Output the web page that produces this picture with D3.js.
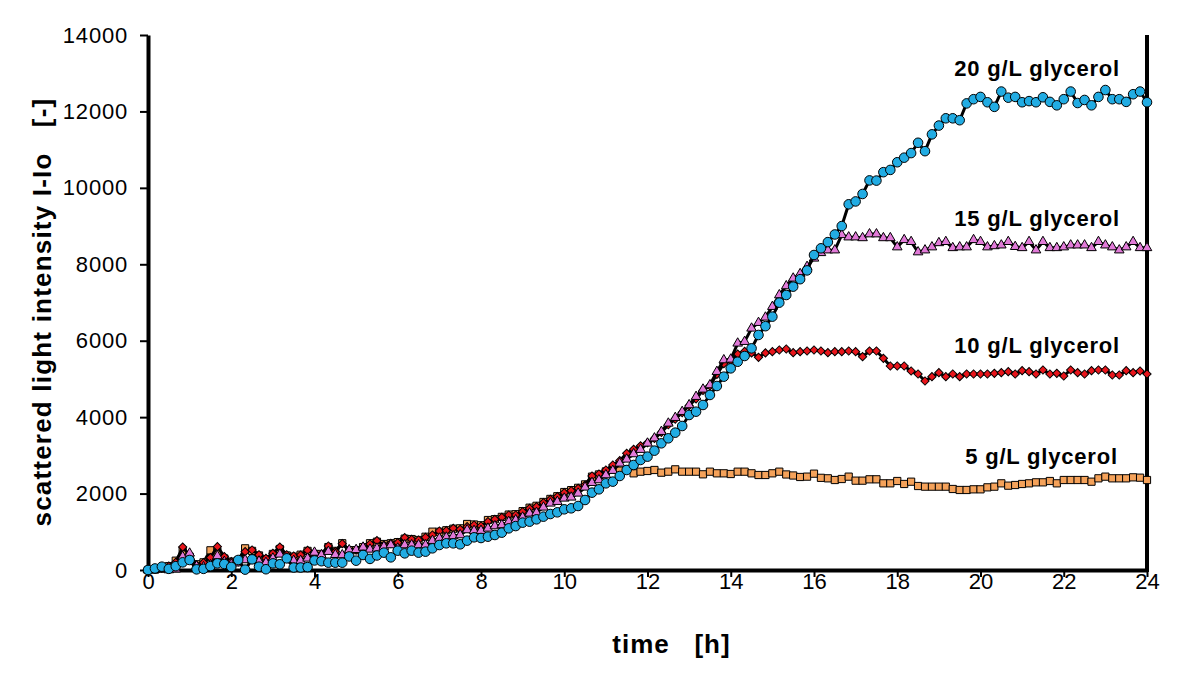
<!DOCTYPE html>
<html>
<head>
<meta charset="utf-8">
<script src="https://cdn.jsdelivr.net/npm/d3@7"></script>
<style>
	body { margin: 0; background: #fff; }
	svg { display: block; font-family: "Liberation Sans", Arial, sans-serif; }
	.tick text { font-size: 22px; fill: #000; }
	.y-ticks .tick text { letter-spacing: 0.8px; }
	.axis-title { font-size: 26px; font-weight: bold; white-space: pre; }
	.series-label { font-size: 22px; font-weight: bold; letter-spacing: 0.8px; }
</style>
</head>
<body>
<div class="graphic"></div>
<script>
// sampling every 10 min over 24 h
var times = d3.range(0, 145).map(function(i) { return i / 6 })

var xTicks = [0, 2, 4, 6, 8, 10, 12, 14, 16, 18, 20, 22, 24]
var yTicks = [0, 2000, 4000, 6000, 8000, 10000, 12000, 14000]

var labels = ['5 g/L glycerol', '10 g/L glycerol', '15 g/L glycerol', '20 g/L glycerol']

var glycerol5 = [
	0, 10, 40, 100, 244, 500, 350, 150, 200, 515,
	480, 300, 220, 250, 567, 500, 380, 280, 420, 550,
	380, 350, 400, 500, 420, 420, 600, 500, 700, 520,
	520, 600, 700, 740, 680, 700, 730, 820, 810, 785,
	870, 1003, 1000, 1040, 1080, 1090, 1204, 1190, 1170, 1308,
	1330, 1390, 1450, 1460, 1540, 1630, 1680, 1780, 1860, 1930,
	2040, 2090, 2150, 2240, 2443, 2500, 2580, 2620, 2600, 2640,
	2530, 2573, 2591, 2617, 2547, 2573, 2634, 2573, 2573, 2573,
	2504, 2573, 2530, 2530, 2512, 2573, 2573, 2530, 2486, 2486,
	2530, 2573, 2500, 2473, 2434, 2443, 2521, 2412, 2399, 2355,
	2381, 2443, 2338, 2338, 2373, 2373, 2268, 2268, 2329, 2251,
	2311, 2198, 2181, 2181, 2181, 2181, 2120, 2094, 2094, 2111,
	2111, 2163, 2181, 2268, 2207, 2224, 2251, 2268, 2294, 2294,
	2329, 2268, 2355, 2355, 2355, 2355, 2311, 2399, 2443, 2399,
	2399, 2399, 2425, 2416, 2355
]

var glycerol10 = [
	0, 20, 50, 105, 200, 600, 380, 130, 192, 323,
	610, 350, 218, 210, 480, 523, 400, 305, 436, 600,
	400, 366, 393, 515, 419, 410, 628, 480, 690, 506,
	523, 593, 680, 768, 654, 698, 715, 846, 802, 785,
	855, 916, 1021, 1029, 1090, 1064, 1134, 1178, 1151, 1265,
	1326, 1378, 1439, 1439, 1526, 1614, 1657, 1762, 1849, 1919,
	2024, 2076, 2137, 2224, 2460, 2512, 2617, 2748, 2861, 3053,
	3158, 3250, 3330, 3440, 3600, 3800, 3950, 4120, 4300, 4480,
	4700, 4820, 5120, 5400, 5480, 5650, 5720, 5680, 5565, 5680,
	5713, 5757, 5783, 5687, 5713, 5731, 5757, 5731, 5687, 5713,
	5713, 5731, 5713, 5582, 5731, 5731, 5539, 5338, 5338, 5338,
	5207, 5129, 4946, 5059, 5164, 5059, 5129, 5059, 5129, 5129,
	5129, 5129, 5146, 5164, 5190, 5129, 5216, 5190, 5129, 5234,
	5129, 5146, 5077, 5234, 5164, 5129, 5216, 5234, 5234, 5103,
	5103, 5216, 5164, 5207, 5129
]

var glycerol15 = [
	0, 10, 30, 0, 20, 350, 436, 100, 80, 131,
	366, 218, 150, 180, 262, 262, 230, 192, 305, 410,
	305, 244, 244, 305, 460, 393, 480, 400, 393, 523,
	530, 593, 540, 567, 611, 654, 567, 654, 654, 654,
	654, 768, 829, 855, 890, 916, 1047, 1029, 1029, 1090,
	1151, 1178, 1265, 1308, 1378, 1483, 1500, 1640, 1745, 1788,
	1875, 1902, 2006, 2163, 2285, 2355, 2486, 2600, 2791, 2896,
	3036, 3150, 3315, 3450, 3620, 3838, 3986, 4143, 4318, 4536,
	4728, 4841, 5190, 5495, 5513, 5932, 5975, 6324, 6472, 6612,
	6891, 7196, 7432, 7633, 7750, 7938, 8156, 8300, 8370, 8370,
	8770, 8710, 8710, 8690, 8790, 8790, 8690, 8690, 8450, 8640,
	8590, 8320, 8370, 8450, 8560, 8590, 8430, 8450, 8450, 8640,
	8590, 8450, 8480, 8500, 8590, 8460, 8430, 8590, 8370, 8590,
	8430, 8430, 8450, 8500, 8500, 8500, 8430, 8590, 8500, 8450,
	8370, 8450, 8590, 8430, 8430
]

var glycerol20 = [
	0, 40, 87, 30, 100, 200, 262, 17, 30, 100,
	174, 157, 80, 262, 10, 279, 87, 20, 174, 150,
	305, 65, 65, 75, 250, 230, 192, 192, 192, 355,
	244, 393, 290, 380, 454, 331, 506, 436, 506, 454,
	480, 567, 654, 698, 698, 672, 768, 855, 837, 872,
	916, 977, 1090, 1150, 1239, 1265, 1326, 1396, 1465, 1509,
	1588, 1614, 1675, 1832, 2024, 2111, 2268, 2312, 2460, 2617,
	2748, 2879, 2966, 3123, 3315, 3446, 3594, 3768, 4056, 4143,
	4318, 4580, 4815, 5059, 5277, 5450, 5600, 5800, 6150, 6380,
	6630, 6996, 7196, 7415, 7610, 7840, 8243, 8418, 8580, 8780,
	9000, 9570, 9645, 9840, 10195, 10190, 10410, 10470, 10670, 10790,
	10910, 11180, 10960, 11400, 11630, 11820, 11820, 11770, 12210, 12320,
	12380, 12240, 12120, 12520, 12360, 12380, 12240, 12270, 12240, 12370,
	12250, 12160, 12320, 12520, 12220, 12300, 12160, 12380, 12560, 12320,
	12320, 12250, 12450, 12520, 12240
]

;(function() {
	var width = 1200
	var height = 679
	var margin = { top: 35, right: 53, bottom: 109, left: 148 }

	var series = [
		{ name: labels[0], values: glycerol5, fill: '#f5a25a', symbol: d3.symbolSquare, size: 52, rotate: 0, labelAt: [23.3, 2774] },
		{ name: labels[1], values: glycerol10, fill: '#e8151b', symbol: d3.symbolSquare, size: 34, rotate: 45, labelAt: [23.35, 5679] },
		{ name: labels[2], values: glycerol15, fill: '#e17ad8', symbol: d3.symbolTriangle, size: 40, rotate: 0, labelAt: [23.35, 9002] },
		{ name: labels[3], values: glycerol20, fill: '#22ace3', symbol: d3.symbolCircle, size: 72, rotate: 0, labelAt: [23.35, 12927] }
	]

	var svg = d3.select('.graphic').append('svg')
		.attr('width', width)
		.attr('height', height)

	var x = d3.scaleLinear()
		.domain([0, 24])
		.range([margin.left, width - margin.right])

	var y = d3.scaleLinear()
		.domain([0, 14000])
		.range([height - margin.bottom, margin.top])

	// axes
	svg.append('g')
		.attr('transform', 'translate(0,' + y(0) + ')')
		.call(d3.axisBottom(x).tickValues(xTicks).tickFormat(d3.format('d'))
			.tickSize(7).tickSizeOuter(0).tickPadding(-4))

	svg.append('g')
		.attr('class', 'y-ticks')
		.attr('transform', 'translate(' + x(0) + ',0)')
		.call(d3.axisLeft(y).tickValues(yTicks).tickFormat(d3.format('d'))
			.tickSize(8).tickSizeOuter(0).tickPadding(12))

	svg.selectAll('.domain').attr('stroke', '#000').attr('stroke-width', 4)
	svg.selectAll('.tick line').attr('stroke', '#000').attr('stroke-width', 2)
	svg.selectAll('.tick text').attr('font-family', '"Liberation Sans", Arial, sans-serif')

	// right frame line
	svg.append('line')
		.attr('x1', x(24)).attr('x2', x(24))
		.attr('y1', y(14000)).attr('y2', y(0) + 2)
		.attr('stroke', '#000')
		.attr('stroke-width', 4)

	var line = d3.line()
		.x(function(d) { return x(d[0]) })
		.y(function(d) { return y(d[1]) })

	// each series: black line, then its markers
	series.forEach(function(s) {
		var pts = s.values.map(function(v, i) { return [times[i], v] })
		var g = svg.append('g')

		g.append('path')
			.datum(pts)
			.attr('d', line)
			.attr('fill', 'none')
			.attr('stroke', '#000')
			.attr('stroke-width', 3)
			.attr('stroke-linejoin', 'round')

		g.selectAll('.marker')
			.data(pts)
			.enter().append('path')
				.attr('class', 'marker')
				.attr('d', d3.symbol().type(s.symbol).size(s.size))
				.attr('transform', function(d) {
					return 'translate(' + x(d[0]) + ',' + y(d[1]) + ') rotate(' + s.rotate + ')'
				})
				.attr('fill', s.fill)
				.attr('stroke', '#000')
				.attr('stroke-width', 1)
	})

	// series labels
	series.forEach(function(s) {
		svg.append('text')
			.attr('class', 'series-label')
			.attr('x', x(s.labelAt[0]))
			.attr('y', y(s.labelAt[1]))
			.attr('text-anchor', 'end')
			.text(s.name)
	})

	// axis titles
	svg.append('text')
		.attr('class', 'axis-title')
		.attr('x', x(12) + 24)
		.attr('y', y(0) + 83)
		.attr('text-anchor', 'middle')
		.style('letter-spacing', '1px')
		.text('time   [h]')

	svg.append('text')
		.attr('class', 'axis-title')
		.attr('transform', 'translate(51,' + y(6750) + ') rotate(-90)')
		.attr('text-anchor', 'middle')
		.style('letter-spacing', '1.2px')
		.text('scattered light intensity I-Io   [-]')
})()
</script>
</body>
</html>
